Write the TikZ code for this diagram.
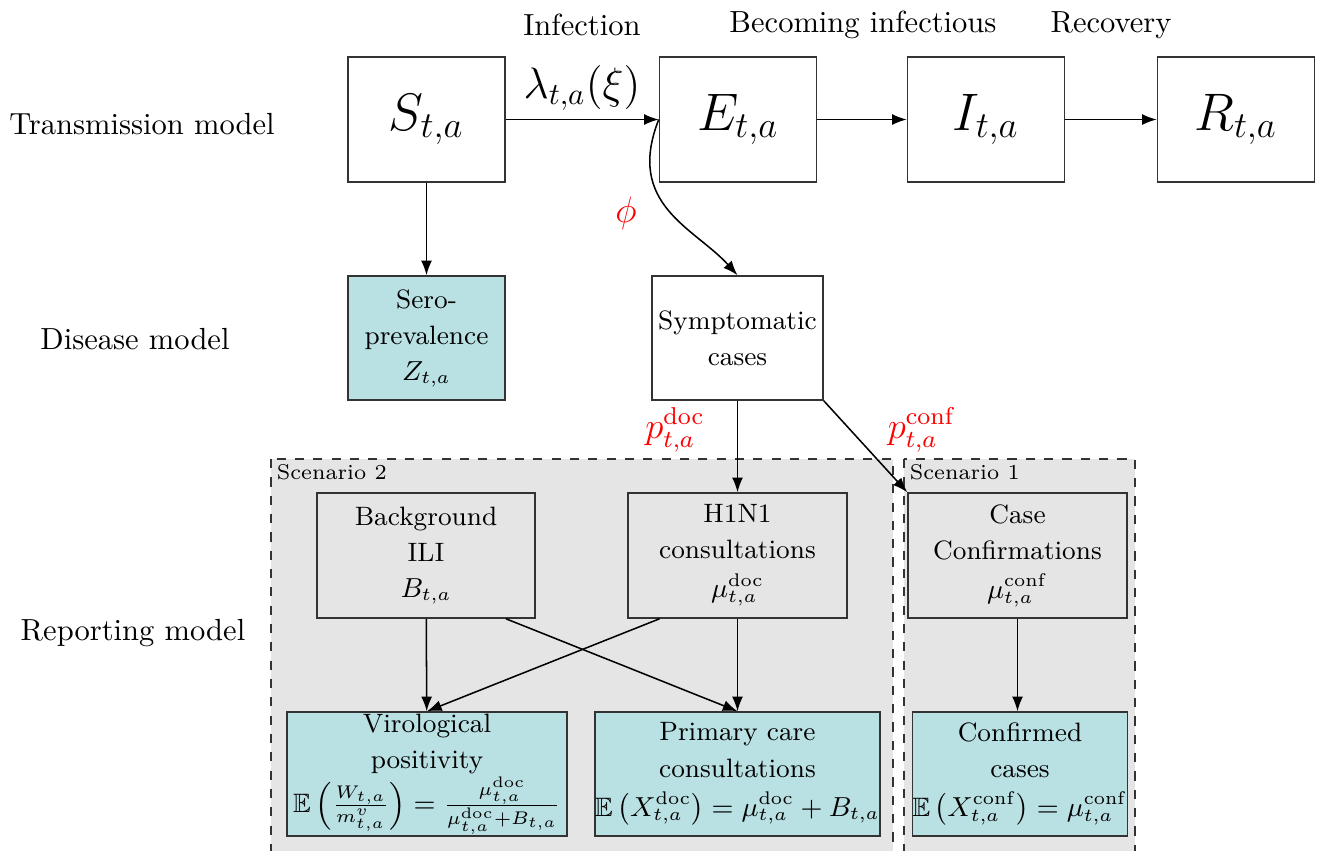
\documentclass[tikz,border=0pt]{standalone}
\usepackage{amsmath, amssymb}
\usepackage{tikz}
\usepackage{xcolor}
\usetikzlibrary{arrows.meta}

\definecolor{obsteal}{RGB}{185,224,227}
\definecolor{scengray}{RGB}{229,229,229}

\tikzset{
  sizebox/.style 2 args={minimum width={#1*0.0115cm}, minimum height={#2*0.0115cm}, inner sep=0pt},
  compbox/.style={draw=black!80, fill=white, sizebox={157}{125}, font=\LARGE},
  latbox/.style={draw=black!80, align=center, font={\fontsize{8.7}{11.8}\selectfont}},
  obsbox/.style={latbox, fill=obsteal},
  rowlabel/.style={font=\normalsize},
  prob/.style={text=red, font=\large},
}

\begin{document}
\begin{tikzpicture}[x=0.0115cm, y=-0.0115cm, >={Latex[length=4.8pt, width=3.6pt]}, line width=0.5pt]
\clip (0,0) rectangle (1321,850);
%% scenario regions
\filldraw[fill=scengray, draw=black!80, dashed] (271,459) rectangle (893,880);
\filldraw[fill=scengray, draw=black!80, dashed] (904,459) rectangle (1135,880);
\node[anchor=north west, font=\scriptsize, inner sep=1pt] (scen2) at (273,461) {Scenario 2};
\node[anchor=north west, font=\scriptsize, inner sep=1pt] (scen1) at (906,461) {Scenario 1};

%% row labels
\node[rowlabel] (trans) at (142,124) {Transmission model};
\node[rowlabel] (dis) at (135,339) {Disease model};
\node[rowlabel] (rep) at (133,633) {Reporting model};

%% transmission model
\node[compbox] (S) at (426.5,119.5) {$S_{t,a}$};
\node[compbox] (E) at (738,119.5) {$E_{t,a}$};
\node[compbox] (I) at (986,119.5) {$I_{t,a}$};
\node[compbox] (R) at (1236,119.5) {$R_{t,a}$};
\node (infec) at (582,25) {Infection};
\node (becom) at (863,25) {Becoming infectious};
\node (recov) at (1111,25) {Recovery};
\node[font=\Large] (lambda) at (582,88) {$\lambda_{t,a}(\xi)$};
\draw[->] (S) -- (E);
\draw[->] (E) -- (I);
\draw[->] (I) -- (R);

%% disease model
\node[obsbox, sizebox={157}{124}] (sero) at (426.5,338) {Sero-\\prevalence\\$Z_{t,a}$};
\node[latbox, fill=white, sizebox={171}{124}] (symp) at (737.5,338) {Symptomatic\\cases};
\draw[->] (S) -- (sero);
\draw[->] (E.west) .. controls (625,205) and (695,228) .. (symp.north);
\node[prob] (phi) at (626,213) {$\phi$};

%% reporting model
\node[latbox, fill=scengray, sizebox={218}{125}] (back) at (426,555.5) {Background\\ILI\\$B_{t,a}$};
\node[latbox, fill=scengray, sizebox={219}{125}] (h1n1) at (737.5,555.5) {H1N1\\consultations\\[1pt]$\mu^{\mathrm{doc}}_{t,a}$};
\node[latbox, fill=scengray, sizebox={219}{125}] (conf) at (1017.5,555.5) {Case\\Confirmations\\[1pt]$\mu^{\mathrm{conf}}_{t,a}$};
\node[obsbox, sizebox={280}{124}] (viro) at (427,774) {Virological\\positivity\\$\mathbb{E}\left(\frac{W_{t,a}}{m^{v}_{t,a}}\right)=\frac{\mu^{\mathrm{doc}}_{t,a}}{\mu^{\mathrm{doc}}_{t,a}+B_{t,a}}$};
\node[obsbox, sizebox={281}{124}] (prim) at (737.5,774) {Primary care\\consultations\\[1pt]$\mathbb{E}\left(X^{\mathrm{doc}}_{t,a}\right)=\mu^{\mathrm{doc}}_{t,a}+B_{t,a}$};
\node[obsbox, sizebox={202}{124}] (cconf) at (1020,774) {Confirmed\\cases\\[1pt]$\mathbb{E}\left(X^{\mathrm{conf}}_{t,a}\right)=\mu^{\mathrm{conf}}_{t,a}$};

\draw[->] (symp) -- (h1n1);
\draw[->] (symp.south east) -- (conf.north west);
\node[prob] (pdoc) at (675,430) {$p^{\mathrm{doc}}_{t,a}$};
\node[prob] (pconf) at (922,430) {$p^{\mathrm{conf}}_{t,a}$};

\draw[->] (back) -- (viro);
\draw[->] (back.south) ++(80,0) coordinate (backout) -- (prim.north);
\draw[->] (h1n1.south) ++(-78,0) coordinate (h1n1out) -- (viro.north);
\draw[->] (h1n1) -- (prim);
\draw[->] (conf) -- (conf |- cconf.north);

\end{tikzpicture}
\end{document}
